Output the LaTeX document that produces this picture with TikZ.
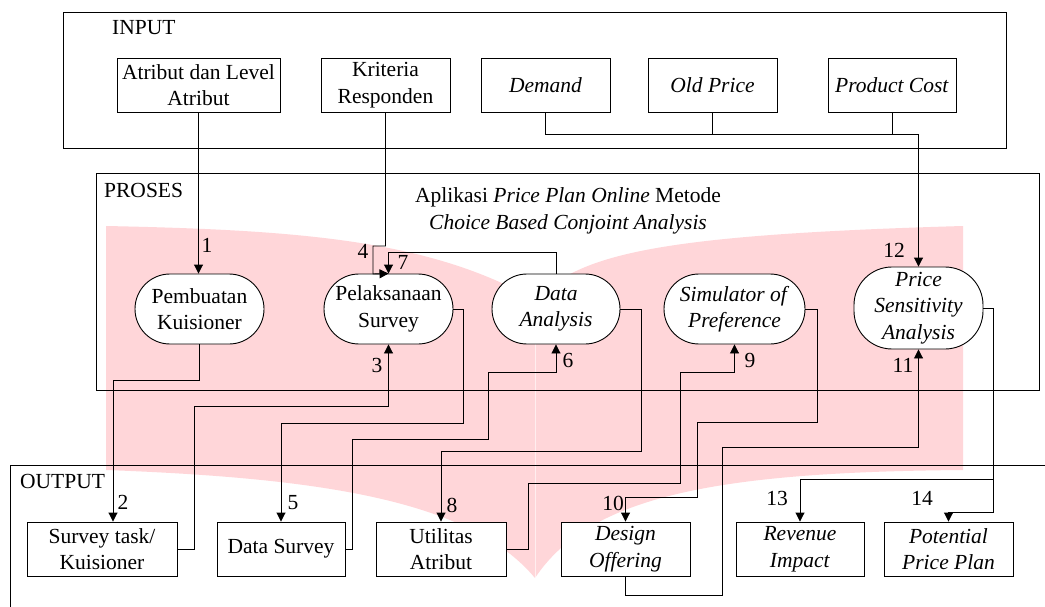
\documentclass[tikz,border=0pt]{standalone}
\usepackage{fontspec}
\setmainfont{Liberation Serif}
\usetikzlibrary{arrows.meta}
\definecolor{pinkwm}{RGB}{255,214,217}
\begin{document}
\begin{tikzpicture}[x=1pt,y=-1pt,
  every node/.style={font=\fontsize{21.5}{26.5}\selectfont, inner sep=0pt},
  box/.style={draw, fill=white, line width=0.9pt, minimum height=54pt, align=center},
  proc/.style={draw, fill=white, line width=0.9pt, rounded corners=35pt, minimum height=70pt, align=center},
  conn/.style={line width=0.9pt},
  arr/.style={conn, -{Triangle[length=9pt,width=9pt]}},
  grp/.style={line width=0.9pt}
]
\useasboundingbox (0,0) rectangle (1045,607);
\fill[white] (0,0) rectangle (1045,607);

% watermark
\fill[pinkwm] (106,226) .. controls (300,230) and (430,240) .. (535,300)
  .. controls (580,255) and (650,235) .. (963,226)
  -- (963,470) .. controls (720,472) and (590,495) .. (535,578)
  .. controls (470,500) and (320,478) .. (106,470) -- cycle;
\draw[white, opacity=0.6, line width=1pt] (535,300) -- (535,578);

% group frames
\draw[grp] (63,12) rectangle (1006,148);
\draw[grp] (96,173) rectangle (1039,390);
\draw[grp] (10,607) -- (10,465) -- (1045,465);
\node[anchor=west] (tin) at (112,28) {INPUT};
\node[anchor=west] (tpr) at (104,190) {PROSES};
\node[anchor=west] (tout) at (20,481) {OUTPUT};
\node[align=center] (title) at (568,211) {Aplikasi \textit{Price Plan Online} Metode\\ \textit{Choice Based Conjoint Analysis}};

% input nodes
\node[box, minimum width=163pt] (ia) at (198.5,85) {Atribut dan Level\\Atribut};
\node[box, minimum width=129pt] (ib) at (385.5,85) {Kriteria\\Responden};
\node[box, minimum width=129pt] (ic) at (545.5,85) {\textit{Demand}};
\node[box, minimum width=129pt] (id) at (712.5,85) {\textit{Old Price}};
\node[box, minimum width=128pt] (ie) at (892,85) {\textit{Product Cost}};

% process nodes
\node[proc, minimum width=129pt] (pa) at (199.5,309) {Pembuatan\\Kuisioner};
\node[proc, minimum width=129pt] (pb) at (388.5,309) {Pelaksanaan\\Survey};
\node[proc, minimum width=128pt] (pc) at (556,309) {\textit{Data}\\\textit{Analysis}};
\node[proc, minimum width=141pt] (pd) at (734.5,309) {\textit{Simulator of}\\\textit{Preference}};
\node[proc, minimum width=129pt, minimum height=82pt, rounded corners=38pt] (pe) at (918.5,308) {\textit{Price}\\\textit{Sensitivity}\\\textit{Analysis}};

% output nodes
\node[box, minimum width=150pt] (oa) at (102,549) {Survey task/\\Kuisioner};
\node[box, minimum width=128pt] (ob) at (281,549) {Data Survey};
\node[box, minimum width=130pt] (oc) at (441,549) {Utilitas\\Atribut};
\node[box, minimum width=129pt] (od) at (625.5,549) {\textit{Design}\\\textit{Offering}};
\node[box, minimum width=128pt] (oe) at (800,549) {\textit{Revenue}\\\textit{Impact}};
\node[box, minimum width=129pt] (of) at (948.5,549) {\textit{Potential}\\\textit{Price Plan}};

% connectors
\draw[arr] (ia.south) -- (ia.south |- pa.north);
\draw[arr] (ib.south) -- (385.5,246) -- (373,246) -- (373,274) -- (pb.north);
\draw[arr] (pc.north) -- (556,252) -- (388.5,252) -- (pb.north);
\draw[arr] (oa.east) -- (194,549) -- (194,406) -- (388.5,406) -- (pb.south);
\draw[arr] (pa.south) -- (199.5,380) -- (113,380) -- (oa.north -| 113,0);
\draw[arr] (pb.east) -- (463,309) -- (463,423) -- (281,423) -- (ob.north);
\draw[arr] (ob.east) -- (352,549) -- (352,439) -- (488,439) -- (488,372) -- (556,372) -- (pc.south);
\draw[arr] (pc.east) -- (641,309) -- (641,451) -- (441,451) -- (oc.north);
\draw[arr] (oc.east) -- (528,549) -- (528,483) -- (680,483) -- (680,372) -- (734.5,372) -- (pd.south);
\draw[arr] (pd.east) -- (817,309) -- (817,422) -- (697,422) -- (697,497) -- (625.5,497) -- (od.north);
\draw[arr] (od.south) -- (625.5,595) -- (722,595) -- (722,447) -- (918.5,447) -- (pe.south);
\draw[arr] (ic.south) -- (545.5,134) -- (918.5,134) -- (pe.north);
\draw[conn] (id.south) -- (712.5,134) -- (918.5,134);
\draw[conn] (ie.south) -- (892,134) -- (918.5,134);
\draw[arr] (pe.east) -- (993,308) -- (993,479) -- (800,479) -- (oe.north);
\draw[arr] (pe.east) -- (993,308) -- (993,512) -- (948.5,512) -- (of.north);

% connector labels
\node (l1) at (207,245) {1};
\node (l4) at (363,251) {4};
\node (l7) at (403,262) {7};
\node (l3) at (377,365) {3};
\node (l2) at (123,502) {2};
\node (l5) at (293,503) {5};
\node (l6) at (568,360) {6};
\node (l8) at (452,505) {8};
\node (l9) at (750,360) {9};
\node (l10) at (613,503) {10};
\node (l11) at (903,365) {11};
\node (l12) at (894,250) {12};
\node (l13) at (777,498) {13};
\node (l14) at (922,498) {14};
\end{tikzpicture}
\end{document}
